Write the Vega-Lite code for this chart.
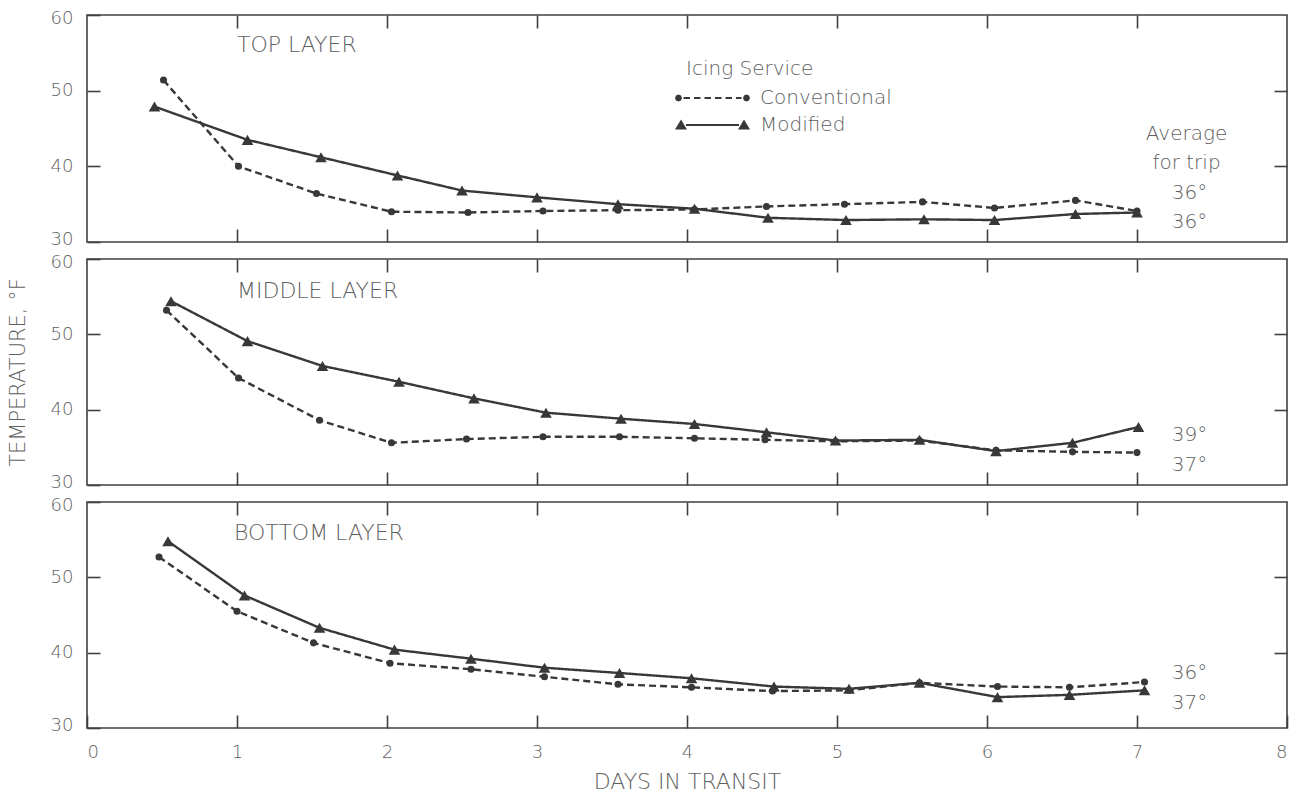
{
  "$schema": "https://vega.github.io/schema/vega-lite/v6.json",
  "background": "white",
  "padding": {"left": 6, "top": 8, "right": 4, "bottom": 0},
  "spacing": 17,
  "bounds": "flush",
  "config": {
    "font": "DejaVu Sans",
    "view": {"stroke": "#404040", "strokeWidth": 1.6},
    "axis": {
      "domain": false, "grid": false, "tickColor": "#404040", "tickWidth": 1.6, "tickSize": -13,
      "labelFont": "DejaVu Sans", "labelFontSize": 18, "labelColor": "#606060", "labelFontWeight": 300,
      "titleFont": "DejaVu Sans", "titleFontSize": 21, "titleFontWeight": 300, "titleColor": "#606060"
    },
    "text": {"font": "DejaVu Sans", "color": "#606060", "fontWeight": 300}
  },
  "datasets": {
    "series": [
      {"panel": "T", "service": "Conventional", "day": 0.51, "temp": 51.4},
      {"panel": "T", "service": "Conventional", "day": 1.01, "temp": 40.0},
      {"panel": "T", "service": "Conventional", "day": 1.53, "temp": 36.4},
      {"panel": "T", "service": "Conventional", "day": 2.03, "temp": 34.0},
      {"panel": "T", "service": "Conventional", "day": 2.54, "temp": 33.9},
      {"panel": "T", "service": "Conventional", "day": 3.04, "temp": 34.1},
      {"panel": "T", "service": "Conventional", "day": 3.54, "temp": 34.2},
      {"panel": "T", "service": "Conventional", "day": 4.05, "temp": 34.3},
      {"panel": "T", "service": "Conventional", "day": 4.53, "temp": 34.7},
      {"panel": "T", "service": "Conventional", "day": 5.05, "temp": 35.0},
      {"panel": "T", "service": "Conventional", "day": 5.57, "temp": 35.3},
      {"panel": "T", "service": "Conventional", "day": 6.05, "temp": 34.5},
      {"panel": "T", "service": "Conventional", "day": 6.59, "temp": 35.5},
      {"panel": "T", "service": "Conventional", "day": 7.0, "temp": 34.1},
      {"panel": "T", "service": "Modified", "day": 0.45, "temp": 47.9},
      {"panel": "T", "service": "Modified", "day": 1.07, "temp": 43.5},
      {"panel": "T", "service": "Modified", "day": 1.56, "temp": 41.2},
      {"panel": "T", "service": "Modified", "day": 2.07, "temp": 38.8},
      {"panel": "T", "service": "Modified", "day": 2.5, "temp": 36.8},
      {"panel": "T", "service": "Modified", "day": 3.0, "temp": 35.9},
      {"panel": "T", "service": "Modified", "day": 3.54, "temp": 35.0},
      {"panel": "T", "service": "Modified", "day": 4.05, "temp": 34.4},
      {"panel": "T", "service": "Modified", "day": 4.54, "temp": 33.2},
      {"panel": "T", "service": "Modified", "day": 5.06, "temp": 32.9},
      {"panel": "T", "service": "Modified", "day": 5.58, "temp": 33.0},
      {"panel": "T", "service": "Modified", "day": 6.05, "temp": 32.9},
      {"panel": "T", "service": "Modified", "day": 6.59, "temp": 33.7},
      {"panel": "T", "service": "Modified", "day": 7.0, "temp": 33.9},
      {"panel": "M", "service": "Conventional", "day": 0.53, "temp": 53.2},
      {"panel": "M", "service": "Conventional", "day": 1.01, "temp": 44.2},
      {"panel": "M", "service": "Conventional", "day": 1.55, "temp": 38.6},
      {"panel": "M", "service": "Conventional", "day": 2.03, "temp": 35.6},
      {"panel": "M", "service": "Conventional", "day": 2.53, "temp": 36.1},
      {"panel": "M", "service": "Conventional", "day": 3.04, "temp": 36.4},
      {"panel": "M", "service": "Conventional", "day": 3.55, "temp": 36.4},
      {"panel": "M", "service": "Conventional", "day": 4.05, "temp": 36.2},
      {"panel": "M", "service": "Conventional", "day": 4.52, "temp": 36.0},
      {"panel": "M", "service": "Conventional", "day": 4.99, "temp": 35.8},
      {"panel": "M", "service": "Conventional", "day": 5.55, "temp": 35.9},
      {"panel": "M", "service": "Conventional", "day": 6.06, "temp": 34.6},
      {"panel": "M", "service": "Conventional", "day": 6.57, "temp": 34.4},
      {"panel": "M", "service": "Conventional", "day": 7.0, "temp": 34.3},
      {"panel": "M", "service": "Modified", "day": 0.56, "temp": 54.4},
      {"panel": "M", "service": "Modified", "day": 1.07, "temp": 49.1},
      {"panel": "M", "service": "Modified", "day": 1.57, "temp": 45.8},
      {"panel": "M", "service": "Modified", "day": 2.08, "temp": 43.7},
      {"panel": "M", "service": "Modified", "day": 2.58, "temp": 41.5},
      {"panel": "M", "service": "Modified", "day": 3.06, "temp": 39.6},
      {"panel": "M", "service": "Modified", "day": 3.56, "temp": 38.8},
      {"panel": "M", "service": "Modified", "day": 4.05, "temp": 38.1},
      {"panel": "M", "service": "Modified", "day": 4.53, "temp": 37.0},
      {"panel": "M", "service": "Modified", "day": 4.99, "temp": 35.9},
      {"panel": "M", "service": "Modified", "day": 5.55, "temp": 36.0},
      {"panel": "M", "service": "Modified", "day": 6.06, "temp": 34.5},
      {"panel": "M", "service": "Modified", "day": 6.57, "temp": 35.6},
      {"panel": "M", "service": "Modified", "day": 7.01, "temp": 37.7},
      {"panel": "B", "service": "Conventional", "day": 0.48, "temp": 52.7},
      {"panel": "B", "service": "Conventional", "day": 1.0, "temp": 45.5},
      {"panel": "B", "service": "Conventional", "day": 1.51, "temp": 41.3},
      {"panel": "B", "service": "Conventional", "day": 2.02, "temp": 38.6},
      {"panel": "B", "service": "Conventional", "day": 2.56, "temp": 37.8},
      {"panel": "B", "service": "Conventional", "day": 3.05, "temp": 36.8},
      {"panel": "B", "service": "Conventional", "day": 3.54, "temp": 35.8},
      {"panel": "B", "service": "Conventional", "day": 4.03, "temp": 35.4},
      {"panel": "B", "service": "Conventional", "day": 4.57, "temp": 34.9},
      {"panel": "B", "service": "Conventional", "day": 5.08, "temp": 35.0},
      {"panel": "B", "service": "Conventional", "day": 5.55, "temp": 36.0},
      {"panel": "B", "service": "Conventional", "day": 6.07, "temp": 35.5},
      {"panel": "B", "service": "Conventional", "day": 6.55, "temp": 35.4},
      {"panel": "B", "service": "Conventional", "day": 7.05, "temp": 36.1},
      {"panel": "B", "service": "Modified", "day": 0.54, "temp": 54.8},
      {"panel": "B", "service": "Modified", "day": 1.05, "temp": 47.6},
      {"panel": "B", "service": "Modified", "day": 1.55, "temp": 43.3},
      {"panel": "B", "service": "Modified", "day": 2.05, "temp": 40.4},
      {"panel": "B", "service": "Modified", "day": 2.56, "temp": 39.2},
      {"panel": "B", "service": "Modified", "day": 3.05, "temp": 38.0},
      {"panel": "B", "service": "Modified", "day": 3.55, "temp": 37.3},
      {"panel": "B", "service": "Modified", "day": 4.03, "temp": 36.6},
      {"panel": "B", "service": "Modified", "day": 4.58, "temp": 35.5},
      {"panel": "B", "service": "Modified", "day": 5.08, "temp": 35.2},
      {"panel": "B", "service": "Modified", "day": 5.55, "temp": 36.0},
      {"panel": "B", "service": "Modified", "day": 6.07, "temp": 34.1},
      {"panel": "B", "service": "Modified", "day": 6.55, "temp": 34.4},
      {"panel": "B", "service": "Modified", "day": 7.05, "temp": 35.0}
    ],
    "notes": [
      {"panel": "T", "kind": "title", "day": 1.0, "temp": 56.0, "text": "TOP LAYER"},
      {"panel": "M", "kind": "title", "day": 1.0, "temp": 55.7, "text": "MIDDLE LAYER"},
      {"panel": "B", "kind": "title", "day": 0.98, "temp": 55.9, "text": "BOTTOM LAYER"},
      {"panel": "T", "kind": "avg", "day": 7.33, "temp": 44.3, "text": "Average"},
      {"panel": "T", "kind": "avg", "day": 7.33, "temp": 40.5, "text": "for trip"},
      {"panel": "T", "kind": "avg", "day": 7.35, "temp": 36.5, "text": "36°"},
      {"panel": "T", "kind": "avg", "day": 7.35, "temp": 32.7, "text": "36°"},
      {"panel": "M", "kind": "avg", "day": 7.35, "temp": 36.6, "text": "39°"},
      {"panel": "M", "kind": "avg", "day": 7.35, "temp": 32.6, "text": "37°"},
      {"panel": "B", "kind": "avg", "day": 7.35, "temp": 37.3, "text": "36°"},
      {"panel": "B", "kind": "avg", "day": 7.35, "temp": 33.3, "text": "37°"}
    ]
  },
  "vconcat": [
    {
      "width": 1200, "height": 227,
      "layer": [
        {
          "data": {"name": "series"}, "transform": [{"filter": "datum.panel == 'T'"}],
          "mark": {"type": "line", "color": "#383838", "strokeWidth": 2.4},
          "encoding": {
            "x": {"field": "day", "type": "quantitative", "scale": {"domain": [0, 8], "nice": false}, "axis": {"values": [1, 2, 3, 4, 5, 6, 7], "labels": false, "title": null}},
            "y": {"field": "temp", "type": "quantitative", "scale": {"domain": [30, 60], "nice": false, "zero": false}, "axis": {"values": [30, 40, 50, 60], "labelPadding": 27, "labelFlush": true, "labelFlushOffset": 6, "title": null}},
            "strokeDash": {"field": "service", "type": "nominal", "scale": {"domain": ["Conventional", "Modified"], "range": [[7, 4], [1, 0]]}, "legend": null}
          }
        },
        {
          "data": {"name": "series"}, "transform": [{"filter": "datum.panel == 'T'"}],
          "mark": {"type": "point", "filled": true, "color": "#383838", "opacity": 1},
          "encoding": {
            "x": {"field": "day", "type": "quantitative", "axis": {"orient": "top", "values": [1, 2, 3, 4, 5, 6, 7], "labels": false, "title": null}},
            "y": {"field": "temp", "type": "quantitative", "axis": {"orient": "right", "values": [40, 50], "labels": false, "title": null}},
            "shape": {"field": "service", "type": "nominal", "scale": {"domain": ["Conventional", "Modified"], "range": ["circle", "triangle-up"]}, "legend": null},
            "size": {"field": "service", "type": "nominal", "scale": {"domain": ["Conventional", "Modified"], "range": [50, 135]}, "legend": null}
          }
        },
        {
          "data": {"name": "series"}, "transform": [{"filter": "datum.panel == 'legend-only'"}],
          "mark": {"type": "point", "filled": true, "color": "#383838", "opacity": 1},
          "encoding": {
            "x": {"field": "day", "type": "quantitative", "axis": null},
            "y": {"field": "temp", "type": "quantitative", "axis": null},
            "shape": {"field": "service", "type": "nominal",
              "scale": {"domain": ["Conventional", "Modified"], "range": [
                "M-1.4,0L-1.5,0.25L-1.75,0.35L-2,0.25L-2.1,0L-2,-0.25L-1.75,-0.35L-1.5,-0.25Z M5.4,0L5.3,0.25L5.05,0.35L4.8,0.25L4.7,0L4.8,-0.25L5.05,-0.35L5.3,-0.25Z M-1.25,-0.1L-0.6,-0.1L-0.6,0.1L-1.25,0.1Z M-0.2,-0.1L0.45,-0.1L0.45,0.1L-0.2,0.1Z M0.85,-0.1L1.5,-0.1L1.5,0.1L0.85,0.1Z M1.9,-0.1L2.55,-0.1L2.55,0.1L1.9,0.1Z M2.95,-0.1L3.6,-0.1L3.6,0.1L2.95,0.1Z M4.0,-0.1L4.55,-0.1L4.55,0.1L4.0,0.1Z",
                "M-1.5,-0.55L-0.9,0.45L-2.1,0.45Z M4.8,-0.55L5.4,0.45L4.2,0.45Z M-1.0,-0.1L4.3,-0.1L4.3,0.1L-1.0,0.1Z"
              ]},
              "legend": {
                "title": "Icing Service", "orient": "none", "legendX": 599, "legendY": 44, "padding": 0,
                "titleFont": "DejaVu Sans", "titleFontSize": 20, "titleFontWeight": 300, "titleColor": "#606060", "titlePadding": 9,
                "labelFont": "DejaVu Sans", "labelFontSize": 20, "labelFontWeight": 300, "labelColor": "#606060", "labelOffset": 54,
                "symbolSize": 400, "symbolStrokeWidth": 0, "symbolFillColor": "#383838", "rowPadding": 7
              }
            }
          }
        },
        {
          "data": {"name": "notes"}, "transform": [{"filter": "datum.panel == 'T' && datum.kind == 'title'"}],
          "mark": {"type": "text", "align": "left", "baseline": "middle", "fontSize": 22},
          "encoding": {"x": {"field": "day", "type": "quantitative", "axis": null}, "y": {"field": "temp", "type": "quantitative", "axis": null}, "text": {"field": "text"}}
        },
        {
          "data": {"name": "notes"}, "transform": [{"filter": "datum.panel == 'T' && datum.kind == 'avg'"}],
          "mark": {"type": "text", "align": "center", "baseline": "middle", "fontSize": 20},
          "encoding": {"x": {"field": "day", "type": "quantitative", "axis": null}, "y": {"field": "temp", "type": "quantitative", "axis": null}, "text": {"field": "text"}}
        }
      ],
      "resolve": {"axis": {"x": "independent", "y": "independent"}, "scale": {"shape": "independent"}}
    },
    {
      "width": 1200, "height": 226,
      "layer": [
        {
          "data": {"name": "series"}, "transform": [{"filter": "datum.panel == 'M'"}],
          "mark": {"type": "line", "color": "#383838", "strokeWidth": 2.4},
          "encoding": {
            "x": {"field": "day", "type": "quantitative", "scale": {"domain": [0, 8], "nice": false}, "axis": {"values": [1, 2, 3, 4, 5, 6, 7], "labels": false, "title": null}},
            "y": {"field": "temp", "type": "quantitative", "scale": {"domain": [30, 60], "nice": false, "zero": false}, "axis": {"values": [30, 40, 50, 60], "labelPadding": 27, "labelFlush": true, "labelFlushOffset": 6, "title": "TEMPERATURE, °F", "titlePadding": 22}},
            "strokeDash": {"field": "service", "type": "nominal", "scale": {"domain": ["Conventional", "Modified"], "range": [[7, 4], [1, 0]]}, "legend": null}
          }
        },
        {
          "data": {"name": "series"}, "transform": [{"filter": "datum.panel == 'M'"}],
          "mark": {"type": "point", "filled": true, "color": "#383838", "opacity": 1},
          "encoding": {
            "x": {"field": "day", "type": "quantitative", "axis": {"orient": "top", "values": [1, 2, 3, 4, 5, 6, 7], "labels": false, "title": null}},
            "y": {"field": "temp", "type": "quantitative", "axis": {"orient": "right", "values": [40, 50], "labels": false, "title": null}},
            "shape": {"field": "service", "type": "nominal", "scale": {"domain": ["Conventional", "Modified"], "range": ["circle", "triangle-up"]}, "legend": null},
            "size": {"field": "service", "type": "nominal", "scale": {"domain": ["Conventional", "Modified"], "range": [50, 135]}, "legend": null}
          }
        },
        {
          "data": {"name": "notes"}, "transform": [{"filter": "datum.panel == 'M' && datum.kind == 'title'"}],
          "mark": {"type": "text", "align": "left", "baseline": "middle", "fontSize": 22},
          "encoding": {"x": {"field": "day", "type": "quantitative", "axis": null}, "y": {"field": "temp", "type": "quantitative", "axis": null}, "text": {"field": "text"}}
        },
        {
          "data": {"name": "notes"}, "transform": [{"filter": "datum.panel == 'M' && datum.kind == 'avg'"}],
          "mark": {"type": "text", "align": "center", "baseline": "middle", "fontSize": 20},
          "encoding": {"x": {"field": "day", "type": "quantitative", "axis": null}, "y": {"field": "temp", "type": "quantitative", "axis": null}, "text": {"field": "text"}}
        }
      ],
      "resolve": {"axis": {"x": "independent", "y": "independent"}}
    },
    {
      "width": 1200, "height": 226,
      "layer": [
        {
          "data": {"name": "series"}, "transform": [{"filter": "datum.panel == 'B'"}],
          "mark": {"type": "line", "color": "#383838", "strokeWidth": 2.4},
          "encoding": {
            "x": {"field": "day", "type": "quantitative", "scale": {"domain": [0, 8], "nice": false}, "axis": {"values": [0, 1, 2, 3, 4, 5, 6, 7, 8], "labelPadding": 28, "title": "DAYS IN TRANSIT", "titlePadding": 10, "titleFontSize": 22}},
            "y": {"field": "temp", "type": "quantitative", "scale": {"domain": [30, 60], "nice": false, "zero": false}, "axis": {"values": [30, 40, 50, 60], "labelPadding": 27, "labelFlush": true, "labelFlushOffset": 6, "title": null}},
            "strokeDash": {"field": "service", "type": "nominal", "scale": {"domain": ["Conventional", "Modified"], "range": [[7, 4], [1, 0]]}, "legend": null}
          }
        },
        {
          "data": {"name": "series"}, "transform": [{"filter": "datum.panel == 'B'"}],
          "mark": {"type": "point", "filled": true, "color": "#383838", "opacity": 1},
          "encoding": {
            "x": {"field": "day", "type": "quantitative", "axis": {"orient": "top", "values": [1, 2, 3, 4, 5, 6, 7], "labels": false, "title": null}},
            "y": {"field": "temp", "type": "quantitative", "axis": {"orient": "right", "values": [40, 50], "labels": false, "title": null}},
            "shape": {"field": "service", "type": "nominal", "scale": {"domain": ["Conventional", "Modified"], "range": ["circle", "triangle-up"]}, "legend": null},
            "size": {"field": "service", "type": "nominal", "scale": {"domain": ["Conventional", "Modified"], "range": [50, 135]}, "legend": null}
          }
        },
        {
          "data": {"name": "notes"}, "transform": [{"filter": "datum.panel == 'B' && datum.kind == 'title'"}],
          "mark": {"type": "text", "align": "left", "baseline": "middle", "fontSize": 22},
          "encoding": {"x": {"field": "day", "type": "quantitative", "axis": null}, "y": {"field": "temp", "type": "quantitative", "axis": null}, "text": {"field": "text"}}
        },
        {
          "data": {"name": "notes"}, "transform": [{"filter": "datum.panel == 'B' && datum.kind == 'avg'"}],
          "mark": {"type": "text", "align": "center", "baseline": "middle", "fontSize": 20},
          "encoding": {"x": {"field": "day", "type": "quantitative", "axis": null}, "y": {"field": "temp", "type": "quantitative", "axis": null}, "text": {"field": "text"}}
        }
      ],
      "resolve": {"axis": {"x": "independent", "y": "independent"}}
    }
  ]
}
